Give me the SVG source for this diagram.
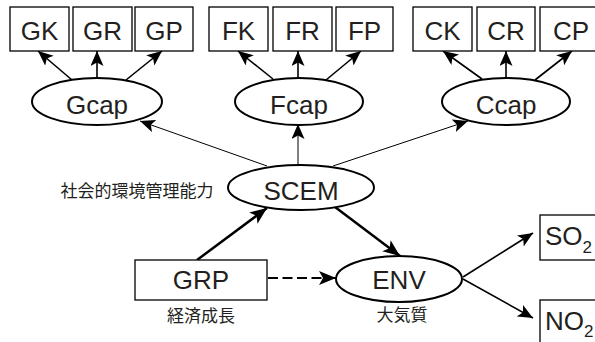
<svg xmlns="http://www.w3.org/2000/svg" width="595" height="342" viewBox="0 0 595 342">
<style>
.box{fill:#fff;stroke:#000;stroke-width:1.3}
.ell{fill:#fff;stroke:#000;stroke-width:2}
.t{font-family:"Liberation Sans",Arial,sans-serif;font-size:26px;fill:#231f20;text-anchor:middle}
.ts{font-family:"Liberation Sans",Arial,sans-serif;font-size:26px;fill:#231f20}
.sub{font-size:17px}
.jp{font-family:"Noto Sans CJK JP",sans-serif;font-size:17px;fill:#231f20;text-anchor:middle}
.thin{stroke:#000;stroke-width:1;fill:none;marker-end:url(#ah)}
.med{stroke:#000;stroke-width:1.6;fill:none;marker-end:url(#ah)}
.thick{stroke:#000;stroke-width:2.5;fill:none;marker-end:url(#ahb)}
.dash{stroke:#000;stroke-width:2.2;fill:none;stroke-dasharray:10 4.5;marker-end:url(#ahb)}
</style>
<defs>
<marker id="ah" markerUnits="userSpaceOnUse" markerWidth="16" markerHeight="14" refX="15" refY="6.5" orient="auto">
<path d="M0,0 L15,6.5 L0,13 L3.5,6.5 z" fill="#000"/>
</marker>
<marker id="ahb" markerUnits="userSpaceOnUse" markerWidth="18" markerHeight="15" refX="17" refY="7" orient="auto">
<path d="M0,0 L17,7 L0,14 L4,7 z" fill="#000"/>
</marker>
</defs>
<g id="connectors">
<line class="med" x1="72" y1="80" x2="38" y2="51"/>
<line class="med" x1="97" y1="78" x2="97" y2="51"/>
<line class="med" x1="126" y1="80" x2="162" y2="51"/>
<line class="med" x1="273" y1="79" x2="238" y2="51"/>
<line class="med" x1="298" y1="78" x2="298" y2="51"/>
<line class="med" x1="326" y1="80" x2="361" y2="51"/>
<line class="med" x1="482" y1="79" x2="443" y2="51"/>
<line class="med" x1="506" y1="78" x2="506" y2="51"/>
<line class="med" x1="535" y1="80" x2="572" y2="51"/>
<line class="thin" x1="267" y1="166" x2="140" y2="121"/>
<line class="thin" x1="298" y1="165" x2="298" y2="124"/>
<line class="thin" x1="333" y1="166" x2="468" y2="121"/>
<line class="thick" x1="197" y1="260" x2="267" y2="208"/>
<line class="thick" x1="335" y1="207" x2="400" y2="256"/>
<line class="dash" x1="268" y1="278" x2="336" y2="278"/>
<line class="med" x1="463" y1="277" x2="533" y2="233"/>
<line class="med" x1="463" y1="279" x2="533" y2="318"/>
</g>
<g id="GK"><rect class="box" x="10" y="7" width="59" height="44"/><text class="t" x="39.5" y="40">GK</text></g>
<g id="GR"><rect class="box" x="73" y="7" width="59" height="44"/><text class="t" x="102.5" y="40">GR</text></g>
<g id="GP"><rect class="box" x="135" y="7" width="58" height="44"/><text class="t" x="164" y="40">GP</text></g>
<g id="FK"><rect class="box" x="209" y="7" width="59" height="44"/><text class="t" x="238.5" y="40">FK</text></g>
<g id="FR"><rect class="box" x="273" y="7" width="59" height="44"/><text class="t" x="302.5" y="40">FR</text></g>
<g id="FP"><rect class="box" x="336" y="7" width="57" height="44"/><text class="t" x="364.5" y="40">FP</text></g>
<g id="CK"><rect class="box" x="413" y="7" width="59" height="44"/><text class="t" x="442.5" y="40">CK</text></g>
<g id="CR"><rect class="box" x="477" y="7" width="58" height="44"/><text class="t" x="506" y="40">CR</text></g>
<g id="CP"><rect class="box" x="540" y="7" width="62" height="44"/><text class="t" x="571" y="40">CP</text></g>
<g id="Gcap"><ellipse class="ell" cx="97" cy="101.5" rx="65" ry="23.5"/><text class="t" x="97" y="113.5">Gcap</text></g>
<g id="Fcap"><ellipse class="ell" cx="299" cy="101.5" rx="64" ry="23.5"/><text class="t" x="299" y="113.5">Fcap</text></g>
<g id="Ccap"><ellipse class="ell" cx="506" cy="101.5" rx="64" ry="23.5"/><text class="t" x="506" y="113.5">Ccap</text></g>
<g id="SCEM"><ellipse class="ell" cx="301" cy="187.5" rx="73" ry="22.5"/><text class="t" x="301" y="199.5">SCEM</text><text class="jp" x="137" y="196.5">社会的環境管理能力</text></g>
<g id="GRP"><rect class="box" x="135" y="260" width="132" height="40"/><text class="t" x="201" y="288.5">GRP</text><text class="jp" x="201" y="321.5">経済成長</text></g>
<g id="ENV"><ellipse class="ell" cx="399" cy="279" rx="63" ry="23"/><text class="t" x="399" y="289">ENV</text><text class="jp" x="402" y="321">大気質</text></g>
<g id="SO2"><rect class="box" x="540" y="215" width="62" height="45"/><text class="ts" x="545" y="245">SO<tspan class="sub" dy="8">2</tspan></text></g>
<g id="NO2"><rect class="box" x="540" y="300" width="62" height="50"/><text class="ts" x="545" y="330">NO<tspan class="sub" dy="7">2</tspan></text></g>
</svg>
